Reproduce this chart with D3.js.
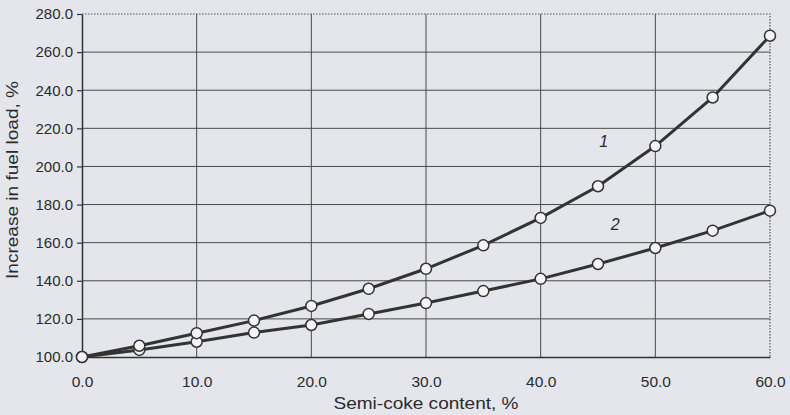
<!DOCTYPE html>
<html>
  <head>
    <meta charset="utf-8">
    <title>Increase in fuel load</title>
    <script src="https://d3js.org/d3.v7.min.js"></script>
    <style>
      body { margin: 0; background: #e5e6eb; }
    </style>
  </head>
  <body>
    <div id="chart"></div>
    <script>
      // data
      const semiCoke = [0, 5, 10, 15, 20, 25, 30, 35, 40, 45, 50, 55, 60];
      const curve1 = [100, 105.9, 112.5, 119.1, 126.8, 135.8, 146.3, 158.6, 173, 189.6, 210.7, 236.2, 268.6];
      const curve2 = [100, 103.7, 108, 112.8, 116.8, 122.6, 128.3, 134.6, 141, 148.8, 157.2, 166.3, 176.8];
      const xTicks = [0, 10, 20, 30, 40, 50, 60];
      const yTicks = [100, 120, 140, 160, 180, 200, 220, 240, 260, 280];

      const width = 790, height = 415;
      const margin = {top: 14, right: 20, bottom: 58, left: 82};
      const ink = "#333333";
      const textInk = "#2b2b2b";

      const svg = d3.select("#chart")
                    .append("svg")
                    .attr("width", width)
                    .attr("height", height)
                    .style("font-family", "'Liberation Sans', Arial, sans-serif");

      const xScale = d3.scaleLinear()
                       .domain([0, 60])
                       .range([margin.left, width - margin.right]);
      const yScale = d3.scaleLinear()
                       .domain([100, 280])
                       .range([height - margin.bottom, margin.top]);

      // grid
      svg.append("g")
         .selectAll("line")
         .data(yTicks.filter(d => d > 100 && d < 280))
         .join("line")
         .attr("x1", xScale(0))
         .attr("x2", xScale(60))
         .attr("y1", d => yScale(d))
         .attr("y2", d => yScale(d))
         .attr("stroke", "#4a4a4a")
         .attr("stroke-width", 1);
      svg.append("g")
         .selectAll("line")
         .data(xTicks.filter(d => d > 0 && d < 60))
         .join("line")
         .attr("x1", d => xScale(d))
         .attr("x2", d => xScale(d))
         .attr("y1", yScale(100))
         .attr("y2", yScale(280))
         .attr("stroke", "#4a4a4a")
         .attr("stroke-width", 1);

      // dotted frame on top and right
      svg.append("path")
         .attr("d", `M${xScale(0)},${yScale(280)}H${xScale(60)}V${yScale(100)}`)
         .attr("fill", "none")
         .attr("stroke", "#555")
         .attr("stroke-width", 1.2)
         .attr("stroke-dasharray", "1.5,1.5");

      // axes
      const xAxis = svg.append("g")
                       .attr("transform", `translate(0, ${yScale(100)})`)
                       .call(d3.axisBottom(xScale).tickValues(xTicks).tickSize(0).tickPadding(19).tickFormat(d3.format(".1f")));
      const yAxis = svg.append("g")
                       .attr("transform", `translate(${xScale(0)}, 0)`)
                       .call(d3.axisLeft(yScale).tickValues(yTicks).tickSizeInner(5).tickSizeOuter(0).tickPadding(4).tickFormat(d3.format(".1f")));
      [xAxis, yAxis].forEach(a => {
        a.select(".domain").attr("stroke", ink).attr("stroke-width", 1.5);
        a.selectAll(".tick line").attr("stroke", ink).attr("stroke-width", 1.2);
        a.selectAll(".tick text").attr("fill", textInk).attr("font-size", 15);
      });
      xAxis.selectAll(".tick text").attr("font-size", 15.5);

      // axis titles
      svg.append("text")
         .attr("x", (xScale(0) + xScale(60)) / 2)
         .attr("y", 409)
         .attr("text-anchor", "middle")
         .attr("font-size", 17)
         .attr("textLength", 185)
         .attr("lengthAdjust", "spacingAndGlyphs")
         .attr("fill", textInk)
         .text("Semi-coke content, %");
      svg.append("text")
         .attr("transform", `translate(18, 180) rotate(-90)`)
         .attr("text-anchor", "middle")
         .attr("font-size", 16)
         .attr("textLength", 198)
         .attr("lengthAdjust", "spacingAndGlyphs")
         .attr("fill", textInk)
         .text("Increase in fuel load, %");

      // curves
      const line = d3.line()
                     .x((d, i) => xScale(semiCoke[i]))
                     .y(d => yScale(d));
      [curve2, curve1].forEach(series => {
        svg.append("path")
           .datum(series)
           .attr("d", line)
           .attr("fill", "none")
           .attr("stroke", ink)
           .attr("stroke-width", 3);
        svg.append("g")
           .selectAll("circle")
           .data(series)
           .join("circle")
           .attr("cx", (d, i) => xScale(semiCoke[i]))
           .attr("cy", d => yScale(d))
           .attr("r", 5.5)
           .attr("fill", "#f4f4f6")
           .attr("stroke", ink)
           .attr("stroke-width", 1.5);
      });

      // curve labels
      svg.append("text")
         .attr("x", xScale(45.5))
         .attr("y", yScale(210))
         .attr("text-anchor", "middle")
         .attr("font-size", 16)
         .attr("font-style", "italic")
         .attr("fill", textInk)
         .text("1");
      svg.append("text")
         .attr("x", xScale(46.5))
         .attr("y", yScale(166.5))
         .attr("text-anchor", "middle")
         .attr("font-size", 16)
         .attr("font-style", "italic")
         .attr("fill", textInk)
         .text("2");
    </script>
  </body>
</html>
